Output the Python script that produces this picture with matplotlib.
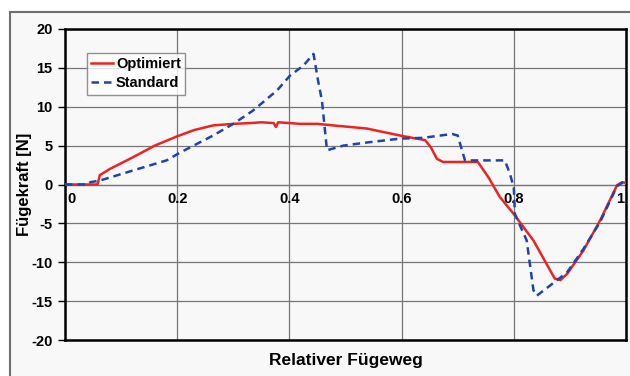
import numpy as np
import matplotlib.pyplot as plt
from matplotlib.patches import Rectangle

plt.rcParams['font.family'] = ['Liberation Sans', 'DejaVu Sans']
plt.rcParams['font.weight'] = 'bold'
plt.rcParams['axes.unicode_minus'] = False

# Optimiert (red, solid)
opt_x = [0.0, 0.03, 0.058, 0.062, 0.08, 0.121, 0.16, 0.2, 0.23, 0.264, 0.3, 0.33, 0.35,
         0.372, 0.376, 0.38, 0.4, 0.419, 0.45, 0.478, 0.538, 0.597, 0.642, 0.652, 0.663,
         0.674, 0.736, 0.755, 0.775, 0.8, 0.835, 0.873, 0.883, 0.895, 0.924, 0.954,
         0.984, 0.993, 1.0]
opt_y = [0.0, 0.0, 0.0, 1.2, 2.0, 3.5, 5.0, 6.2, 7.0, 7.6, 7.8, 7.9, 8.0,
         7.9, 7.4, 8.0, 7.9, 7.8, 7.8, 7.6, 7.2, 6.3, 5.7, 4.8, 3.3,
         2.9, 2.9, 0.9, -1.6, -3.8, -7.2, -12.1, -12.3, -11.5, -8.5, -4.6,
         -0.1, 0.3, 0.2]

# Standard (blue, dashed)
std_x = [0.0, 0.04, 0.045, 0.062, 0.121, 0.181, 0.205, 0.264, 0.3, 0.335, 0.378, 0.401,
         0.425, 0.443, 0.451, 0.458, 0.467, 0.496, 0.538, 0.597, 0.638, 0.69, 0.7,
         0.713, 0.784, 0.793, 0.8, 0.802, 0.823, 0.835, 0.841, 0.87, 0.895, 0.924,
         0.954, 0.984, 0.993, 1.0]
std_y = [0.0, 0.0, 0.3, 0.5, 1.8, 3.1, 4.1, 6.3, 7.8, 9.5, 12.1, 14.0,
         15.3, 16.8, 13.4, 10.8, 4.4, 5.0, 5.4, 5.9, 6.0, 6.5, 6.3,
         3.1, 3.1, 1.4, -0.4, -3.8, -7.2, -13.6, -14.3, -12.7, -11.3, -8.3,
         -4.8, -0.2, 0.2, 0.2]

x_ticks = [0, 0.2, 0.4, 0.6, 0.8, 1]
x_tick_labels = ['0', '0.2', '0.4', '0.6', '0.8', '1']
y_ticks = [-20, -15, -10, -5, 0, 5, 10, 15, 20]

fig = plt.figure(figsize=(6.3, 3.76), dpi=100)
fig.patch.set_facecolor('white')
# outer chart frame
frame = Rectangle((10 / 630, -0.05), 1.0, (376 - 12) / 376 + 0.05,
                  transform=fig.transFigure, facecolor='#f8f8f8',
                  edgecolor='#707070', linewidth=1.5, zorder=-10)
fig.add_artist(frame)

ax = fig.add_axes([65 / 630, 1 - 340 / 376, (626 - 65) / 630, (340 - 29) / 376])
ax.set_zorder(1)
ax.set_facecolor('#f8f8f8')

ax.plot(opt_x, opt_y, color='#ee2222', linewidth=1.8, label='Optimiert', zorder=3)
ax.plot(std_x, std_y, color='#1f45a8', linewidth=1.8, linestyle=(0, (3, 2)),
        label='Standard', zorder=4)

ax.set_xlim(0, 1)
ax.set_ylim(-20, 20)
ax.set_xticks(x_ticks)
ax.set_yticks(y_ticks)
ax.set_xticklabels([])
ax.tick_params(axis='x', length=0)
ax.tick_params(axis='y', length=5, labelsize=10.5, direction='out', width=1, pad=4)
for lbl in ax.get_yticklabels():
    lbl.set_fontweight('bold')
ax.grid(True, color='#777777', linewidth=0.9)
ax.axhline(0, color='#777777', linewidth=0.9)
for s in ax.spines.values():
    s.set_linewidth(1.8)
    s.set_color('black')

# x labels sit inside the plot, just below the zero line
for xv, txt in zip(x_ticks, x_tick_labels):
    xp = min(max(xv, 0.012), 0.99)
    ax.text(xp, -1.0, txt, ha='center', va='top', fontsize=10.5, fontweight='bold')

ax.set_xlabel('Relativer Fügeweg', fontsize=12.5, fontweight='bold', labelpad=6)
ax.set_ylabel('Fügekraft [N]', fontsize=12, fontweight='bold')
ax.yaxis.set_label_coords(-0.058, 0.5)

leg = ax.legend(loc='upper left', bbox_to_anchor=(0.039, 0.923), fontsize=10.5,
                frameon=True, fancybox=False, handlelength=1.5, borderpad=0.3,
                labelspacing=0.35, handletextpad=0.2, borderaxespad=0)
leg.get_frame().set_edgecolor('#777777')
leg.get_frame().set_facecolor('white')
leg.get_frame().set_linewidth(1.0)
for t in leg.get_texts():
    t.set_fontweight('bold')

fig.savefig('out.png', dpi=100)
